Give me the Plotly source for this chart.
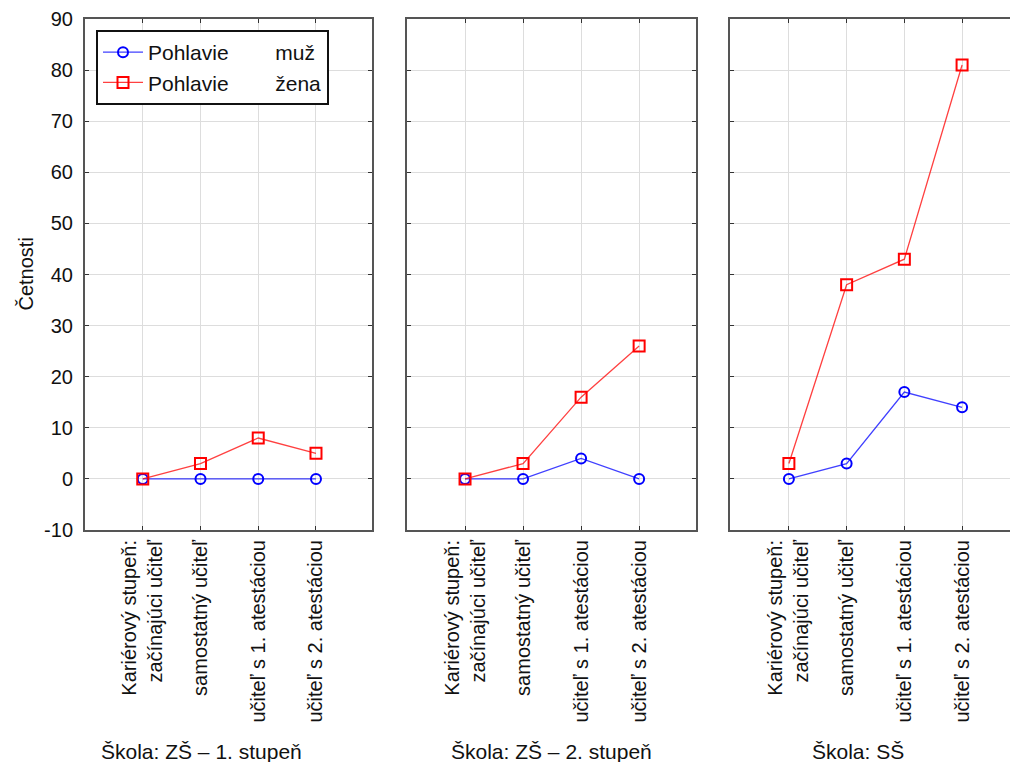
import plotly.graph_objects as go

categories = ["Kariérový stupeň:<br>začínajúci učiteľ", "samostatný učiteľ",
              "učiteľ s 1. atestáciou", "učiteľ s 2. atestáciou"]
panels = ["Škola: ZŠ – 1. stupeň", "Škola: ZŠ – 2. stupeň", "Škola: SŠ"]
muz = [[0, 0, 0, 0], [0, 0, 4, 0], [0, 3, 17, 14]]
zena = [[0, 3, 8, 5], [0, 3, 16, 26], [3, 38, 43, 81]]
series_names = ["Pohlavie" + "\u00a0" * 8 + "muž",
                "Pohlavie" + "\u00a0" * 8 + "žena"]
y_ticks = list(range(-10, 91, 10))
y_ticktext = [str(v) for v in y_ticks]

W, H = 1010, 762
FONT = "Liberation Sans, Arial, sans-serif"
FS = 20

domains = [[85 / W, 372 / W], [407 / W, 696 / W], [730 / W, 1.0]]
xranges = [[-1.0, 3.97], [-1.0, 3.98], [-1.02, 3.83]]
title_x = [201 / W, 551 / W, 858 / W]

fig = go.Figure()
xpos = list(range(len(categories)))
for i in range(3):
    xa = "x" if i == 0 else f"x{i+1}"
    ya = "y" if i == 0 else f"y{i+1}"
    fig.add_trace(go.Scatter(
        x=xpos, y=muz[i], xaxis=xa, yaxis=ya, mode="lines+markers",
        name=series_names[0], legendgroup="m", showlegend=(i == 0),
        line=dict(color="rgba(0,0,255,0.75)", width=1.3),
        marker=dict(symbol="circle-open", size=10, color="#0000ff", line=dict(width=2, color="#0000ff")),
    ))
    fig.add_trace(go.Scatter(
        x=xpos, y=zena[i], xaxis=xa, yaxis=ya, mode="lines+markers",
        name=series_names[1], legendgroup="z", showlegend=(i == 0),
        line=dict(color="rgba(255,0,0,0.75)", width=1.3),
        marker=dict(symbol="square-open", size=11, color="#ff0000", line=dict(width=2, color="#ff0000")),
    ))

axis_common = dict(
    showline=True, linecolor="#555555", linewidth=2,
    showgrid=True, gridcolor="#dddddd", gridwidth=1,
    ticks="inside", ticklen=4, tickcolor="#333333", zeroline=False,
    tickfont=dict(family=FONT, size=FS, color="#111111"),
)

layout = dict(
    width=W, height=H,
    margin=dict(l=0, r=0, t=19, b=232),
    paper_bgcolor="white", plot_bgcolor="white",
    font=dict(family=FONT, size=FS, color="#111111"),
    legend=dict(
        x=96 / W, y=(530 - 30) / 511, xanchor="left", yanchor="top",
        bordercolor="#111111", borderwidth=2, bgcolor="white",
        font=dict(family=FONT, size=21, color="#111111"),
        tracegroupgap=0, itemwidth=40,
    ),
    showlegend=True,
)
for i in range(3):
    xk = "xaxis" if i == 0 else f"xaxis{i+1}"
    yk = "yaxis" if i == 0 else f"yaxis{i+1}"
    layout[xk] = dict(
        axis_common, domain=domains[i], range=xranges[i], anchor="y" if i == 0 else f"y{i+1}",
        tickmode="array", tickvals=xpos, ticktext=categories, tickangle=-90,
        mirror="allticks",
    )
    layout[yk] = dict(
        axis_common, domain=[0, 1], range=[-10, 90], anchor="x" if i == 0 else f"x{i+1}",
        tickmode="array", tickvals=y_ticks, ticktext=y_ticktext, showticklabels=(i == 0),
        mirror=("allticks" if i < 2 else False), ticklabelstandoff=6,
    )
fig.update_layout(**layout)

annotations = [dict(text="Četnosti", x=25 / W, y=0.5, xref="paper", yref="paper",
                    textangle=-90, showarrow=False, xanchor="center", yanchor="middle",
                    font=dict(family=FONT, size=FS, color="#111111"))]
for i in range(3):
    annotations.append(dict(text=panels[i], x=title_x[i], y=(530 - 751) / 511,
                            xref="paper", yref="paper", showarrow=False,
                            xanchor="center", yanchor="middle",
                            font=dict(family=FONT, size=21, color="#111111")))
fig.update_layout(annotations=annotations)

fig.write_html("out.html")
